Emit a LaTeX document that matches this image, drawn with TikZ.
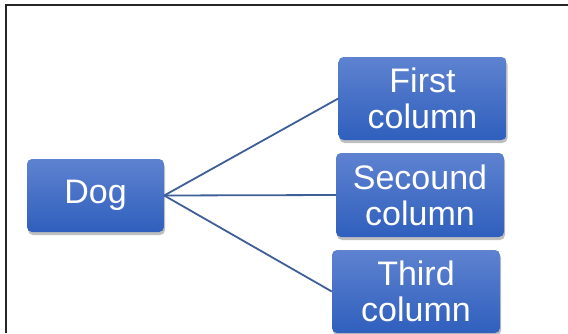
\documentclass[tikz,border=0pt]{standalone}
\usepackage{fontspec}
\setmainfont{Liberation Sans}
\usetikzlibrary{shadows}

\definecolor{boxtop}{RGB}{94,130,208}
\definecolor{boxbot}{RGB}{47,95,189}
\definecolor{linkblue}{RGB}{62,94,152}

\tikzset{
  catbox/.style={rectangle, rounded corners=5pt, top color=boxtop, bottom color=boxbot,
    draw=none, text=white, align=center, inner sep=0pt,
    font=\fontsize{34}{36}\selectfont,
    drop shadow={shadow xshift=1pt, shadow yshift=-3pt, opacity=0.25, fill=black}},
  link/.style={draw=linkblue, line width=1.8pt}
}

\begin{document}
\begin{tikzpicture}[x=1pt,y=-1pt]
  \useasboundingbox (0,0) rectangle (568,333);
  \fill[white] (0,0) rectangle (568,333);
  \draw[line width=1.5pt, black!85] (6,333) |- (568,5);

  \node[catbox, minimum width=137pt, minimum height=73pt] (dog)    at (95.5,195.5) {Dog};
  \node[catbox, minimum width=168pt, minimum height=83pt] (first)  at (422.5,98.5) {First\\column};
  \node[catbox, minimum width=168pt, minimum height=84pt] (second) at (420,195)    {Secound\\column};
  \node[catbox, minimum width=168pt, minimum height=83pt] (third)  at (416,291.5)  {Third\\column};

  \path[link]
    (dog.east) edge (first.west)
    (dog.east) edge (second.west)
    (dog.east) edge (third.west);
\end{tikzpicture}
\end{document}
